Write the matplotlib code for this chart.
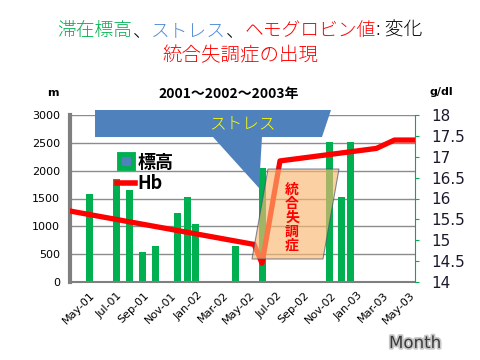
import matplotlib
matplotlib.use('Agg')
import matplotlib.pyplot as plt
import matplotlib.dates as mdates
import matplotlib.patheffects as pe
from matplotlib.lines import Line2D
from matplotlib.patches import Polygon
import numpy as np

plt.rcParams['font.family'] = ['DejaVu Sans', 'Noto Sans CJK JP']
JP = ['Noto Sans CJK JP', 'DejaVu Sans']

GREEN = '#00B050'
BLUE = '#4F81BD'
RED = '#FF0000'

# stay altitude (m)
alt_dates = ['2001-04-29', '2001-06-30', '2001-07-30', '2001-08-28', '2001-09-27',
             '2001-11-16', '2001-12-08', '2001-12-27', '2002-03-29', '2002-05-28',
             '2002-10-28', '2002-11-25', '2002-12-16']
alt_m = [1580, 1850, 1650, 540, 650, 1240, 1530, 1040, 650, 2050, 2515, 1530, 2515]

# hemoglobin (g/dl)
hb_dates = ['2001-03-16', '2002-05-10', '2002-05-28', '2002-07-08',
            '2003-02-13', '2003-03-26', '2003-05-10']
hb_values = [15.7, 14.9, 14.45, 16.9, 17.2, 17.4, 17.4]

x_start, x_end = '2001-03-16', '2003-05-12'

alt_x = mdates.date2num(np.array(alt_dates, dtype='datetime64[D]'))
hb_x = mdates.date2num(np.array(hb_dates, dtype='datetime64[D]'))

fig = plt.figure(figsize=(4.8, 3.6), dpi=100)
ax = fig.add_axes([70 / 480, 78 / 360, 345 / 480, 167 / 360])
ax2 = ax.twinx()

# bars: altitude
ax.bar(alt_x, alt_m, width=16, color=GREEN, zorder=2)
ax.set_ylim(0, 3000)
ax.set_yticks(np.arange(0, 3001, 500))
ax.grid(axis='y', color='#8C8C8C', linewidth=1)
ax.set_axisbelow(True)
ax.set_xlim(mdates.date2num(np.datetime64(x_start)), mdates.date2num(np.datetime64(x_end)))
ax.xaxis.set_major_locator(mdates.MonthLocator(bymonth=[1, 3, 5, 7, 9, 11]))
ax.xaxis.set_major_formatter(mdates.DateFormatter('%b-%y'))
for lab in ax.get_xticklabels():
    lab.set_rotation(45)
    lab.set_ha('right')
    lab.set_rotation_mode('anchor')
ax.tick_params(axis='x', length=0, pad=6, labelsize=8)
ax.tick_params(axis='y', length=0, pad=7, labelsize=8)
ax.spines['left'].set_color('#7F7F7F')
ax.spines['left'].set_linewidth(3)
ax.spines['bottom'].set_color('#7F7F7F')
ax.spines['bottom'].set_linewidth(1.5)
ax.spines['top'].set_visible(False)
ax.spines['right'].set_visible(False)

# line: hemoglobin
ax2.plot(hb_x, hb_values, color=RED, linewidth=3.8, solid_joinstyle='round', zorder=3)
ax2.set_ylim(14, 18)
ax2.set_yticks(np.arange(14, 18.01, 0.5))
ax2.set_yticklabels(['14', '14.5', '15', '15.5', '16', '16.5', '17', '17.5', '18'])
ax2.tick_params(axis='y', colors=GREEN, labelcolor='#1a1a2e', length=3, pad=9, labelsize=11)
ax2.spines['right'].set_color(GREEN)
for s in ['left', 'top', 'bottom']:
    ax2.spines[s].set_visible(False)

# stress callout
callout = Polygon([(0.0725, 1.03), (0.7565, 1.03), (0.7304, 0.868), (0.5565, 0.868),
                   (0.5478, 0.563), (0.4145, 0.868), (0.0725, 0.868)],
                  closed=True, transform=ax2.transAxes, facecolor=BLUE,
                  edgecolor='none', clip_on=False, zorder=6)
ax2.add_patch(callout)
ax2.text(0.4986, 0.946, 'ストレス', transform=ax2.transAxes, color='#FFFF00',
         fontsize=12, ha='center', va='center', family=JP, fontweight=300, zorder=7)

# ataxia period box
box = Polygon([(0.5739, 0.6766), (0.7797, 0.6766), (0.7333, 0.1377), (0.5275, 0.1377)],
              closed=True, transform=ax2.transAxes, facecolor='#FAB870', alpha=0.65,
              edgecolor='#3F4F6F', linewidth=0.8, zorder=6)
ax2.add_patch(box)
ax2.text(0.6435, 0.386, '\n'.join('統合失調症'), transform=ax2.transAxes, color=RED,
         fontsize=10, fontweight='bold', ha='center', va='center', linespacing=1.0,
         family=JP, zorder=7)

# legend
handles = [Line2D([], [], marker='s', markersize=10, markerfacecolor=BLUE,
                  markeredgecolor=GREEN, markeredgewidth=3.5, linestyle='none'),
           Line2D([], [], color=RED, linewidth=4)]
leg = ax2.legend(handles, ['標高', 'Hb'], loc='upper left', bbox_to_anchor=(0.135, 0.775),
                 frameon=False, handlelength=1.0, handletextpad=0.15, labelspacing=0.15,
                 borderpad=0, borderaxespad=0,
                 prop={'family': JP, 'size': 13, 'weight': 'bold'})
leg.set_zorder(8)

# titles
def colored_line(y, parts, size):
    renderer = fig.canvas.get_renderer()
    texts = [fig.text(0, y, s, color=c, fontsize=size, va='center', ha='left',
                      family=JP, fontweight=300)
             for s, c in parts]
    widths = [t.get_window_extent(renderer).width for t in texts]
    x = (fig.bbox.width - sum(widths)) / 2
    for t, w in zip(texts, widths):
        t.set_x(x / fig.bbox.width)
        x += w

colored_line(1 - 31 / 360, [('滞在標高', GREEN), ('、', 'black'), ('ストレス', '#558ED5'),
                            ('、', 'black'), ('ヘモグロビン値', RED), (': 変化', 'black')], 13.5)
colored_line(1 - 56 / 360, [('統合失調症の出現', RED)], 14)

fig.text(229 / 480, 1 - 94 / 360, '2001～2002～2003年', fontsize=10, fontweight='bold',
         ha='center', va='center', family=JP)
fig.text(53 / 480, 1 - 93 / 360, 'm', fontsize=8, fontweight='bold', ha='center', va='center')
fig.text(441 / 480, 1 - 92 / 360, 'g/dl', fontsize=8, fontweight='bold', ha='center', va='center')
fig.text(415 / 480, 1 - 343 / 360, 'Month', fontsize=12, color='#3a3a3a', ha='center',
         va='center', path_effects=[pe.withStroke(linewidth=2.5, foreground='#C8C8C8')])

fig.savefig('out.png', dpi=100)
